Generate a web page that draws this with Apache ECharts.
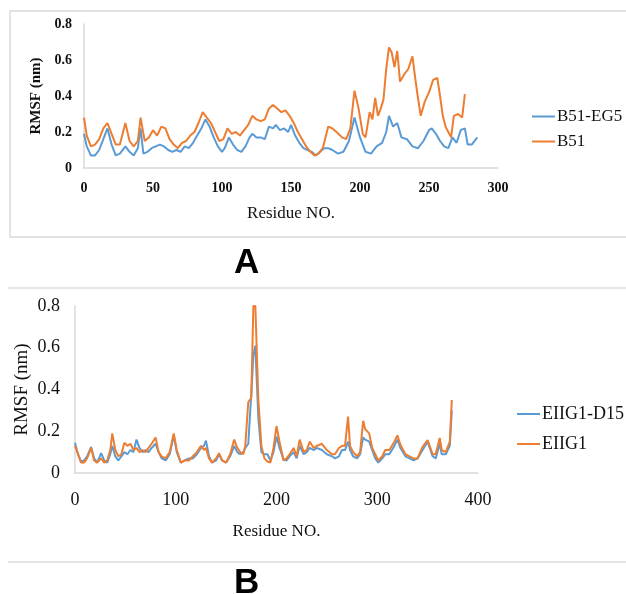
<!DOCTYPE html>
<html>
<head>
<meta charset="utf-8">
<script src="https://cdn.jsdelivr.net/npm/echarts@6/dist/echarts.min.js"></script>
<style>html,body{margin:0;padding:0;background:#fff;}#c{width:626px;height:594px;}</style>
</head>
<body>
<div id="c"></div>
<script>
// ---- Panel A data ----
const resA_blue = [0,2,5,8,11,14,17,20,23,26,30,33,36,39,41,43,46,49,52,55,58,61,64,67,70,73,76,79,82,85,88,91,94,97,100,102,105,108,111,114,117,120,122,125,128,131,134,137,139,142,145,148,150,153,156,159,162,165,168,171,174,177,180,184,188,192,196,200,204,208,212,216,219,221,224,227,230,234,238,242,246,250,252,255,258,261,264,267,270,273,276,278,281,285];
const valA_blue = [0.19,0.12,0.07,0.07,0.10,0.16,0.22,0.13,0.07,0.08,0.12,0.09,0.07,0.11,0.22,0.08,0.09,0.11,0.12,0.13,0.12,0.10,0.09,0.10,0.09,0.12,0.11,0.14,0.18,0.22,0.27,0.23,0.17,0.12,0.09,0.11,0.17,0.13,0.10,0.09,0.12,0.17,0.19,0.17,0.17,0.16,0.23,0.22,0.24,0.21,0.22,0.20,0.24,0.18,0.14,0.11,0.10,0.09,0.07,0.09,0.11,0.11,0.10,0.08,0.09,0.15,0.28,0.17,0.09,0.08,0.12,0.14,0.20,0.29,0.23,0.25,0.17,0.16,0.12,0.11,0.15,0.21,0.22,0.19,0.15,0.12,0.11,0.17,0.14,0.21,0.22,0.13,0.13,0.17];
const resA_orange = [0,2,5,8,11,14,17,20,23,26,30,33,36,39,41,44,47,50,53,56,59,62,65,68,71,74,77,80,83,86,89,92,95,98,101,104,107,110,113,116,119,122,125,128,131,134,137,140,143,146,149,152,155,158,161,164,167,170,173,177,180,183,187,190,193,196,199,202,204,207,209,211,213,215,217,219,221,223,225,227,229,232,235,238,240,242,244,247,250,253,256,258,260,262,264,266,268,271,274,276];
const valA_orange = [0.28,0.18,0.12,0.13,0.16,0.22,0.25,0.19,0.13,0.13,0.25,0.15,0.12,0.15,0.28,0.15,0.17,0.21,0.18,0.23,0.22,0.16,0.13,0.11,0.14,0.15,0.18,0.20,0.25,0.31,0.28,0.25,0.20,0.15,0.16,0.22,0.19,0.20,0.18,0.21,0.24,0.29,0.27,0.26,0.27,0.33,0.35,0.33,0.31,0.32,0.29,0.25,0.20,0.16,0.12,0.09,0.07,0.08,0.11,0.23,0.22,0.20,0.17,0.16,0.22,0.43,0.33,0.19,0.17,0.31,0.27,0.39,0.29,0.33,0.38,0.55,0.67,0.64,0.56,0.65,0.48,0.52,0.55,0.62,0.50,0.39,0.29,0.37,0.42,0.49,0.50,0.40,0.29,0.23,0.20,0.17,0.29,0.30,0.28,0.41];
const namesA = ['B51-EG5','B51'];

// ---- Panel B data ----
const resB = [0,3,6,9,12,16,19,22,26,29,32,35,37,40,43,46,49,52,55,58,61,64,67,70,73,76,80,83,86,90,94,98,101,105,109,113,117,121,125,128,130,133,136,140,143,146,150,154,158,161,164,167,169,172,175,177,179,182,185,188,191,194,197,200,203,207,210,213,217,220,223,227,230,233,237,240,245,250,255,258,262,265,268,271,273,276,280,283,286,288,292,295,298,301,305,308,312,317,320,323,328,332,336,340,345,350,355,358,362,364,368,372,374];
const valB_blue = [0.145,0.09,0.055,0.06,0.08,0.125,0.07,0.05,0.095,0.06,0.05,0.09,0.13,0.08,0.06,0.08,0.10,0.09,0.11,0.10,0.16,0.12,0.10,0.11,0.10,0.12,0.14,0.10,0.07,0.06,0.09,0.18,0.10,0.05,0.06,0.07,0.07,0.09,0.12,0.13,0.155,0.08,0.05,0.06,0.09,0.06,0.05,0.08,0.13,0.10,0.09,0.10,0.12,0.14,0.38,0.56,0.61,0.26,0.10,0.09,0.09,0.06,0.10,0.175,0.12,0.065,0.06,0.08,0.10,0.07,0.13,0.09,0.10,0.12,0.11,0.12,0.11,0.09,0.08,0.07,0.08,0.11,0.11,0.15,0.11,0.08,0.07,0.09,0.17,0.16,0.15,0.11,0.07,0.05,0.07,0.09,0.09,0.13,0.16,0.12,0.08,0.07,0.06,0.07,0.11,0.15,0.08,0.07,0.14,0.09,0.09,0.13,0.30];
const valB_orange = [0.13,0.09,0.05,0.05,0.07,0.12,0.06,0.05,0.07,0.05,0.06,0.11,0.19,0.11,0.08,0.09,0.145,0.13,0.14,0.11,0.12,0.10,0.11,0.10,0.12,0.14,0.17,0.10,0.08,0.07,0.10,0.19,0.11,0.05,0.06,0.06,0.08,0.10,0.13,0.11,0.12,0.07,0.05,0.07,0.095,0.06,0.05,0.09,0.16,0.12,0.10,0.09,0.13,0.34,0.36,0.80,0.80,0.35,0.13,0.07,0.055,0.05,0.12,0.225,0.15,0.06,0.07,0.09,0.12,0.08,0.16,0.10,0.11,0.15,0.12,0.13,0.14,0.11,0.09,0.09,0.12,0.13,0.13,0.27,0.13,0.10,0.08,0.10,0.25,0.21,0.19,0.12,0.09,0.06,0.08,0.11,0.11,0.15,0.18,0.135,0.09,0.08,0.07,0.07,0.125,0.158,0.09,0.09,0.168,0.11,0.10,0.15,0.35];
const namesB = ['EIIG1-D15','EIIG1'];

const BLUE = '#5B9BD5', ORANGE = '#ED7D31';
const SERIF = 'Liberation Serif, Times New Roman, serif';
const pairs = (xs, ys) => xs.map((x, i) => [x, ys[i]]);

const chart = echarts.init(document.getElementById('c'), null, {renderer: 'canvas'});

function axisCommon(fs, bold, margin) {
  return {
    nameMoveOverlap: false,
    axisLine: {show: true, lineStyle: {color: '#d9d9d9', width: 1.5}},
    axisTick: {show: false},
    splitLine: {show: false},
    axisLabel: {color: '#111', fontFamily: SERIF, fontSize: fs, fontWeight: bold ? 'bold' : 'normal', margin: margin}
  };
}

chart.setOption({
  animation: false,
  backgroundColor: '#fff',
  graphic: [
    {type: 'rect', shape: {x: 10, y: 11, width: 640, height: 226}, style: {fill: 'none', stroke: '#dcdcdc', lineWidth: 1.5}, silent: true},
    {type: 'line', shape: {x1: 8, y1: 288, x2: 626, y2: 288}, style: {stroke: '#dcdcdc', lineWidth: 1.5}, silent: true},
    {type: 'line', shape: {x1: 8, y1: 562, x2: 626, y2: 562}, style: {stroke: '#dcdcdc', lineWidth: 1.5}, silent: true},
    {type: 'text', left: 234, top: 246, style: {text: 'A', fontFamily: 'Liberation Sans, Arial, sans-serif', fontWeight: 'bold', fontSize: 35, fill: '#000'}},
    {type: 'text', left: 234, top: 566, style: {text: 'B', fontFamily: 'Liberation Sans, Arial, sans-serif', fontWeight: 'bold', fontSize: 35, fill: '#000'}}
  ],
  legend: [
    {data: namesA, orient: 'vertical', left: 527, top: 103, icon: 'rect', itemWidth: 23, itemHeight: 2, itemGap: 8,
     textStyle: {fontFamily: SERIF, fontSize: 17, color: '#111', padding: [0, 0, 0, -3]}},
    {data: namesB, orient: 'vertical', left: 512, top: 400, icon: 'rect', itemWidth: 23, itemHeight: 2, itemGap: 12,
     textStyle: {fontFamily: SERIF, fontSize: 18, color: '#111', padding: [0, 0, 0, -3]}}
  ],
  grid: [
    {left: 84, top: 24, width: 414, height: 144},
    {left: 75, top: 306, width: 403, height: 167}
  ],
  xAxis: [
    Object.assign(axisCommon(14, true, 13), {type: 'value', gridIndex: 0, min: 0, max: 300, interval: 50,
      name: 'Residue NO.', nameLocation: 'middle', nameGap: 37,
      nameTextStyle: {fontFamily: SERIF, fontSize: 17, color: '#111'}}),
    Object.assign(axisCommon(18, false, 18), {type: 'value', gridIndex: 1, min: 0, max: 400, interval: 100,
      name: 'Residue NO.', nameLocation: 'middle', nameGap: 50,
      nameTextStyle: {fontFamily: SERIF, fontSize: 17, color: '#111'}})
  ],
  yAxis: [
    Object.assign(axisCommon(14, true, 12), {type: 'value', gridIndex: 0, min: 0, max: 0.8, interval: 0.2,
      name: 'RMSF (nm)', nameLocation: 'middle', nameGap: 40,
      nameTextStyle: {fontFamily: SERIF, fontSize: 15, fontWeight: 'bold', color: '#111'}}),
    Object.assign(axisCommon(18, false, 15), {type: 'value', gridIndex: 1, min: 0, max: 0.8, interval: 0.2,
      name: 'RMSF (nm)', nameLocation: 'middle', nameGap: 43,
      nameTextStyle: {fontFamily: SERIF, fontSize: 19, color: '#111'}})
  ],
  series: [
    {name: namesA[0], type: 'line', xAxisIndex: 0, yAxisIndex: 0, data: pairs(resA_blue, valA_blue), showSymbol: false, symbol: 'none', lineStyle: {color: BLUE, width: 2}, itemStyle: {color: BLUE}},
    {name: namesA[1], type: 'line', xAxisIndex: 0, yAxisIndex: 0, data: pairs(resA_orange, valA_orange), showSymbol: false, symbol: 'none', lineStyle: {color: ORANGE, width: 2}, itemStyle: {color: ORANGE}},
    {name: namesB[0], type: 'line', xAxisIndex: 1, yAxisIndex: 1, data: pairs(resB, valB_blue), showSymbol: false, symbol: 'none', lineStyle: {color: BLUE, width: 2}, itemStyle: {color: BLUE}},
    {name: namesB[1], type: 'line', xAxisIndex: 1, yAxisIndex: 1, data: pairs(resB, valB_orange), showSymbol: false, symbol: 'none', lineStyle: {color: ORANGE, width: 2}, itemStyle: {color: ORANGE}}
  ]
});
</script>
</body>
</html>
